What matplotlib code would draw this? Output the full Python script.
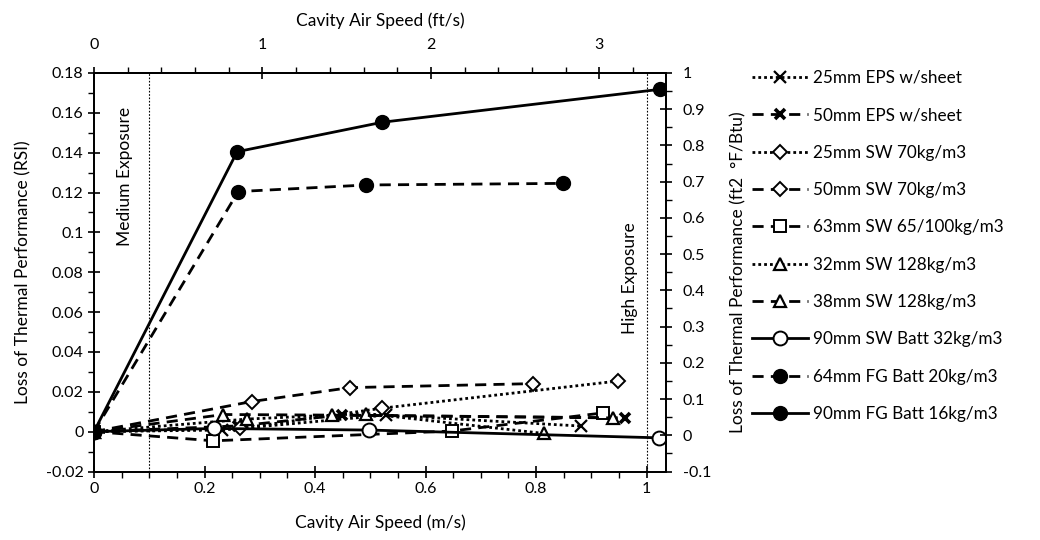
import matplotlib
matplotlib.use('Agg')
import matplotlib.pyplot as plt
from matplotlib.ticker import MultipleLocator, FuncFormatter

plt.rcParams['font.family'] = ['Lato', 'DejaVu Sans']
plt.rcParams['font.size'] = 11.5

# cavity air speed (m/s) and loss of thermal performance (RSI) per assembly
speed_eps25 = [0, 0.231, 0.529, 0.882]
loss_eps25 = [0, 0.0008, 0.0083, 0.0028]
speed_eps50 = [0, 0.261, 0.448, 0.960]
loss_eps50 = [0, 0.0029, 0.0083, 0.0069]
speed_sw25 = [0, 0.264, 0.522, 0.948]
loss_sw25 = [0, 0.0016, 0.0118, 0.0254]
speed_sw50 = [0, 0.285, 0.463, 0.794]
loss_sw50 = [0, 0.0151, 0.0221, 0.0241]
speed_sw63 = [0, 0.216, 0.647, 0.921]
loss_sw63 = [0, -0.0046, 0.0003, 0.0094]
speed_sw32 = [0, 0.276, 0.493, 0.814]
loss_sw32 = [0, 0.0063, 0.0091, -0.0009]
speed_sw38 = [0, 0.234, 0.430, 0.939]
loss_sw38 = [0, 0.0086, 0.0083, 0.0069]
speed_swbatt = [0, 0.217, 0.498, 1.022]
loss_swbatt = [0, 0.0016, 0.0008, -0.0031]
speed_fg64 = [0, 0.261, 0.493, 0.849]
loss_fg64 = [0, 0.1205, 0.1238, 0.1246]
speed_fg90 = [0, 0.259, 0.522, 1.024]
loss_fg90 = [0, 0.1405, 0.1553, 0.1718]

labels = ['25mm EPS w/sheet', '50mm EPS w/sheet', '25mm SW 70kg/m3', '50mm SW 70kg/m3',
          '63mm SW 65/100kg/m3', '32mm SW 128kg/m3', '38mm SW 128kg/m3',
          '90mm SW Batt 32kg/m3', '64mm FG Batt 20kg/m3', '90mm FG Batt 16kg/m3']
ft_ticks = [0, 1, 2, 3]

dot = (0, (1, 1.1))
dash = (0, (4, 2.6))

fig = plt.figure(figsize=(10.4, 5.4), dpi=100)
ax = fig.add_axes([94 / 1040, 1 - 471.5 / 540, (666 - 94) / 1040, (471.5 - 73) / 540])

k = dict(color='black', lw=2, mec='black')
ax.plot(speed_eps25, loss_eps25, ls=dot, marker='x', ms=8, mew=1.6, label=labels[0], **k)
ax.plot(speed_eps50, loss_eps50, ls=dash, marker='x', ms=7, mew=2.6, label=labels[1], **k)
ax.plot(speed_sw25, loss_sw25, ls=dot, marker='D', ms=7, mfc='white', mew=1.4, label=labels[2], **k)
ax.plot(speed_sw50, loss_sw50, ls=dash, marker='D', ms=7, mfc='white', mew=1.4, label=labels[3], **k)
ax.plot(speed_sw63, loss_sw63, ls=dash, marker='s', ms=9, mfc='white', mew=1.4, label=labels[4], **k)
ax.plot(speed_sw32, loss_sw32, ls=dot, marker='^', ms=9, mfc='white', mew=1.6, label=labels[5], **k)
ax.plot(speed_sw38, loss_sw38, ls=dash, marker='^', ms=9, mfc='white', mew=1.6, label=labels[6], **k)
ax.plot(speed_swbatt, loss_swbatt, ls='-', marker='o', ms=10, mfc='white', mew=1.4, label=labels[7], **k)
ax.plot(speed_fg64, loss_fg64, ls=dash, marker='o', ms=10, mfc='black', label=labels[8], **k)
ax.plot(speed_fg90, loss_fg90, ls='-', marker='o', ms=10, mfc='black', label=labels[9], **k)

ax.axvline(0.1, color='black', lw=0.8, ls=(0, (1.5, 1.5)))
ax.axvline(1.0, color='black', lw=0.8, ls=(0, (1.5, 1.5)))
ax.text(0.056, 0.163, 'Medium Exposure', rotation=90, ha='center', va='top', fontsize=12.5)
ax.text(0.969, 0.077, 'High Exposure', rotation=90, ha='center', va='center', fontsize=12.5)

ax.set_xlim(0, 1.035)
ax.set_ylim(-0.02, 0.18)
ax.xaxis.set_major_locator(MultipleLocator(0.2))
ax.xaxis.set_minor_locator(MultipleLocator(0.05))
ax.yaxis.set_major_locator(MultipleLocator(0.02))
ax.yaxis.set_minor_locator(MultipleLocator(0.01))
fmt = FuncFormatter(lambda v, p: '{:g}'.format(round(v, 4)))
ax.xaxis.set_major_formatter(fmt)
ax.yaxis.set_major_formatter(fmt)
ax.set_xlabel('Cavity Air Speed (m/s)', fontsize=12.5, labelpad=13)
ax.set_ylabel('Loss of Thermal Performance (RSI)', fontsize=12.5, labelpad=10)

top = ax.secondary_xaxis('top', functions=(lambda v: v / 0.3048, lambda v: v * 0.3048))
top.set_xticks(ft_ticks)
top.xaxis.set_minor_locator(MultipleLocator(0.2))
top.xaxis.set_major_formatter(fmt)
top.set_xlabel('Cavity Air Speed (ft/s)', fontsize=12.5, labelpad=9)

right = ax.twinx()
right.set_ylim(-0.1, 1)
right.yaxis.set_major_locator(MultipleLocator(0.1))
right.yaxis.set_minor_locator(MultipleLocator(0.05))
right.yaxis.set_major_formatter(fmt)
right.set_ylabel('Loss of Thermal Performance (ft2  \u00b0F/Btu)', fontsize=12.5, labelpad=14)

for a in (ax, top, right):
    a.tick_params(which='major', direction='inout', length=8, width=1.2, colors='black', labelsize=11.5)
    a.tick_params(which='minor', direction='out', length=4, width=1.0, colors='black')
top.tick_params(which='major', pad=11)
right.tick_params(which='major', pad=8)
for a in (ax, right):
    for s in a.spines.values():
        s.set_linewidth(1.3)
top.spines['top'].set_linewidth(1.3)

handles, labs = ax.get_legend_handles_labels()
fig.legend(handles, labs, loc='upper left', bbox_to_anchor=(745 / 1040, 1 - 63 / 540),
           frameon=False, fontsize=12.3, handlelength=3.3, handletextpad=0.3,
           labelspacing=1.25, borderaxespad=0)

fig.savefig('out.png', dpi=100)
